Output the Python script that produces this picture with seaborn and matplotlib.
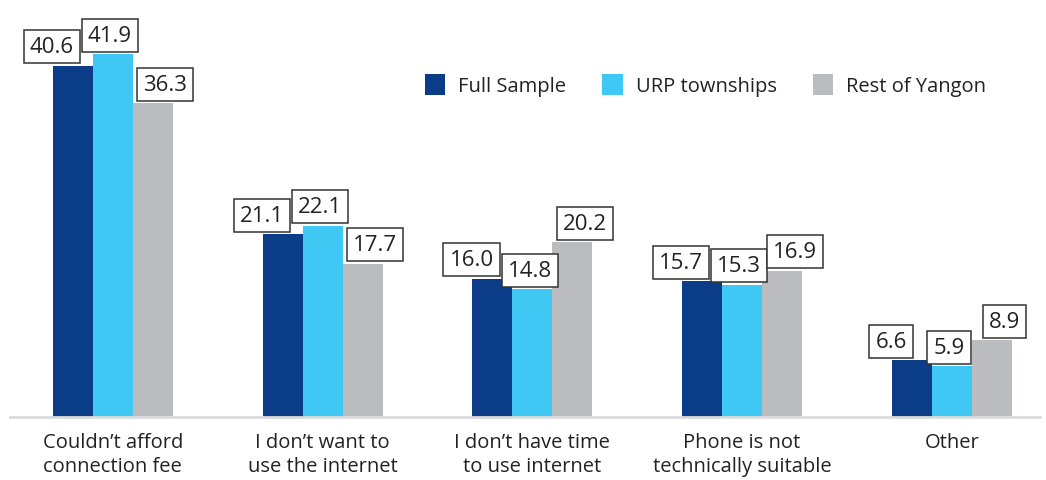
import numpy as np
import pandas as pd
import matplotlib
matplotlib.use("Agg")
import matplotlib.pyplot as plt
import seaborn as sns

categories = ["Couldn\u2019t afford\nconnection fee", "I don\u2019t want to\nuse the internet",
              "I don\u2019t have time\nto use internet", "Phone is not\ntechnically suitable", "Other"]
series = ["Full Sample", "URP townships", "Rest of Yangon"]
full_sample = [40.6, 21.1, 16.0, 15.7, 6.6]
urp_townships = [41.9, 22.1, 14.8, 15.3, 5.9]
rest_of_yangon = [36.3, 17.7, 20.2, 16.9, 8.9]
colors = ["#0b3c87", "#40c8f4", "#bbbcc0"]

rows = []
for s, vals in zip(series, [full_sample, urp_townships, rest_of_yangon]):
    for c, v in zip(categories, vals):
        rows.append({"reason": c, "group": s, "value": v})
df = pd.DataFrame(rows)

sns.set_style("white")
plt.rcParams["font.family"] = ["Open Sans", "DejaVu Sans"]

fig = plt.figure(figsize=(10.46, 4.81), dpi=100)
ax = fig.add_axes([10/1046, 63/481, 1030/1046, 418/481])

sns.barplot(data=df, x="reason", y="value", hue="group", palette=colors,
            width=0.572, gap=0, saturation=1, errorbar=None, ax=ax, linewidth=0)

ax.set_ylim(0, 48.3)
ax.set_xlim(-0.49, 4.42)
ax.set_xlabel("")
ax.set_ylabel("")
ax.set_yticks([])
for side in ["top", "left", "right"]:
    ax.spines[side].set_visible(False)
ax.spines["bottom"].set_color("#dcdcdc")
ax.spines["bottom"].set_linewidth(2)
ax.tick_params(axis="x", length=0, pad=11, labelsize=14.5, labelcolor="#222222")
for lab in ax.get_xticklabels():
    lab.set_linespacing(1.25)

# value labels in boxes, nudged sideways so they don't overlap
x_shift = [-15, -2, 9]
for cont, dx in zip(ax.containers, x_shift):
    for bar in cont:
        h = bar.get_height()
        ax.annotate(f"{h:.1f}", (bar.get_x() + bar.get_width() / 2, h),
                    xytext=(dx, 6), textcoords="offset points",
                    ha="center", va="bottom", fontsize=16, color="#222222",
                    bbox=dict(boxstyle="square,pad=0.27", fc="white", ec="#333333", lw=1.1))

leg = ax.legend(loc="upper left", bbox_to_anchor=(0.395, 0.84), ncol=3, frameon=False,
                fontsize=14.5, handlelength=1.0, handleheight=1.2, columnspacing=1.8,
                handletextpad=0.65, borderaxespad=0)
for t in leg.get_texts():
    t.set_color("#222222")

fig.savefig("out.png", dpi=100)
